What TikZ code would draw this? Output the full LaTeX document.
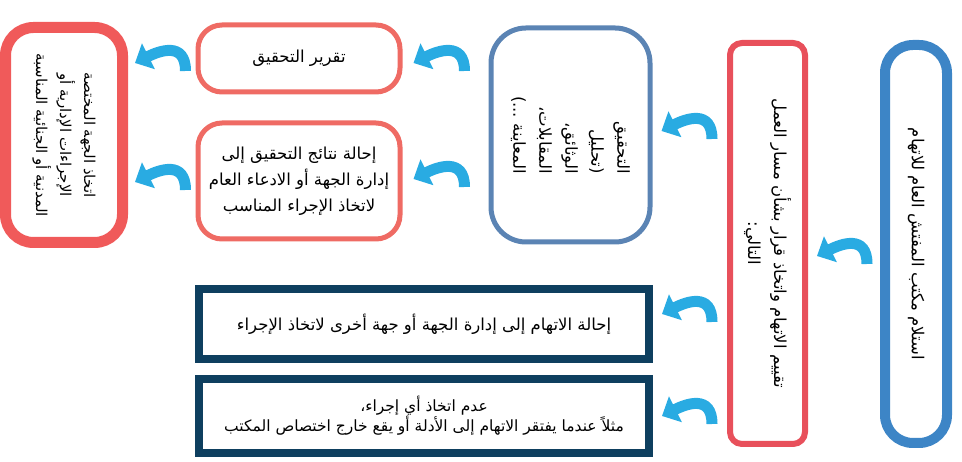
\documentclass[tikz,border=0pt]{standalone}
\usepackage{fontspec}
\usetikzlibrary{arrows.meta,calc}
\newfontfamily\arabicfont[Script=Arabic]{DejaVu Sans}
\TeXXeTstate=1

\definecolor{recvblue}{RGB}{61,133,198}
\definecolor{assessred}{RGB}{232,80,91}
\definecolor{investblue}{RGB}{91,132,180}
\definecolor{coral}{RGB}{239,107,100}
\definecolor{navy}{RGB}{14,63,95}
\definecolor{finalred}{RGB}{240,90,90}
\definecolor{arrowblue}{RGB}{41,171,226}

\begin{document}
\begin{tikzpicture}[x=1pt,y=1pt]
    \tikzstyle{box}=[draw,fill=white,align=center,inner sep=4pt,font=\arabicfont\fontsize{16.5}{26}\selectfont]
    \tikzstyle{flow}=[draw=arrowblue,line width=11pt,-{Triangle[length=15pt,width=28pt]}]

    \useasboundingbox (0,0) rectangle (962,462);

    \node (recv)[box,draw=recvblue,line width=10pt,rounded corners=28pt,rotate=-90,minimum width=398pt,minimum height=62pt] at (916,218) {\beginR استلام مكتب المفتش العام للاتهام\endR};
    \node (assess)[box,draw=assessred,line width=6pt,rounded corners=12pt,rotate=-90,minimum width=401pt,minimum height=75pt] at (767.5,218.5) {\beginR تقييم الاتهام واتخاذ قرار بشأن مسار العمل\endR\\ \beginR التالي:\endR};
    \node (invest)[box,draw=investblue,line width=5pt,rounded corners=35pt,rotate=-90,align=right,minimum width=214pt,minimum height=159pt] at (570.5,327) {\beginR التحقيق\endR\\ \beginR (تحليل\endR\\ \beginR الوثائق،\endR\\ \beginR المقابلات،\endR\\ \beginR المعاينة ...)\endR};

    \node (report)[box,draw=coral,line width=5pt,rounded corners=24pt,minimum width=202pt,minimum height=67pt] at (299,403.5) {\beginR تقرير التحقيق\endR};
    \node (refer2)[box,draw=coral,line width=5pt,rounded corners=24pt,minimum width=202pt,minimum height=116pt] at (299,281) {\beginR إحالة نتائج التحقيق إلى\endR\\ \beginR إدارة الجهة أو الادعاء العام\endR\\ \beginR لاتخاذ الإجراء المناسب\endR};

    \node (refer)[box,draw=navy,line width=8pt,minimum width=450pt,minimum height=70pt] at (424,138) {\beginR إحالة الاتهام إلى إدارة الجهة أو جهة أخرى لاتخاذ الإجراء\endR};
    \node (noact)[box,draw=navy,line width=8pt,minimum width=450pt,minimum height=74pt,font=\arabicfont\fontsize{15.5}{20}\selectfont] at (424,46) {\beginR عدم اتخاذ أي إجراء،\endR\\ \beginR مثلاً عندما يفتقر الاتهام إلى الأدلة أو يقع خارج اختصاص المكتب\endR};

    \node (final)[box,draw=finalred,line width=11pt,rounded corners=28pt,rotate=-90,minimum width=215pt,minimum height=117pt,font=\arabicfont\fontsize{15}{24}\selectfont] at (64,327) {\beginR اتخاذ الجهة المختصة\endR\\ \beginR الإجراءات الإدارية أو\endR\\ \beginR المدنية أو الجنائية المناسبة\endR};

    \draw[flow] ($(recv.south)+(-13,-20)$) .. controls +(0,30) and +(24,12) .. ($(assess.north)+(9,-12.5)$);
    \draw[flow] ($(assess.south)+(-15,104.5)$) .. controls +(0,30) and +(24,12) .. ($(invest.north)+(9,4)$);
    \draw[flow] ($(assess.south)+(-15,-78.5)$) .. controls +(0,30) and +(24,12) .. ($(refer.east)+(9,10)$);
    \draw[flow] ($(assess.south)+(-15,-180.5)$) .. controls +(0,30) and +(24,12) .. ($(noact.east)+(9,0)$);
    \draw[flow] ($(invest.south)+(-24,64)$) .. controls +(0,30) and +(24,12) .. ($(report.east)+(11,-4.5)$);
    \draw[flow] ($(invest.south)+(-24,-52)$) .. controls +(0,30) and +(24,12) .. ($(refer2.east)+(11,2)$);
    \draw[flow] ($(report.west)+(-10,-12.5)$) .. controls +(0,30) and +(24,12) .. ($(final.north)+(7,72)$);
    \draw[flow] ($(refer2.west)+(-10,-9)$) .. controls +(0,30) and +(24,12) .. ($(final.north)+(7,-47)$);
\end{tikzpicture}
\end{document}
